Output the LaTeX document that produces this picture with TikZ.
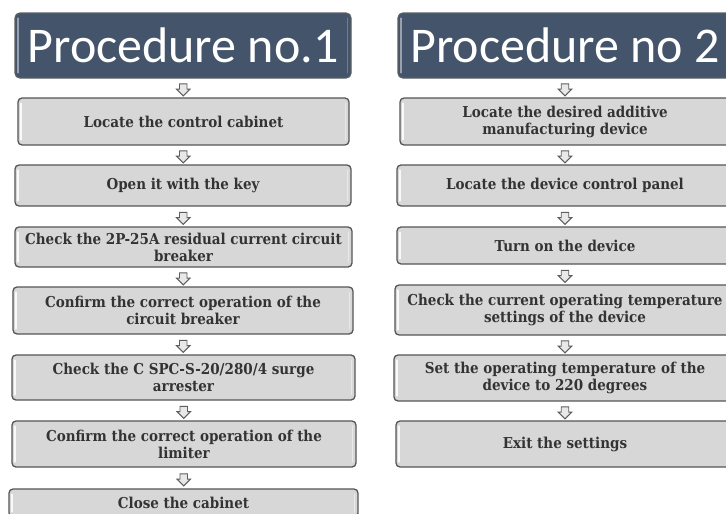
\documentclass[tikz,border=0pt]{standalone}
\usepackage{fontspec}
\setmainfont{DejaVu Serif Condensed}
\newfontfamily\titlefont{Carlito}
\usetikzlibrary{calc,shapes.arrows}

\definecolor{slate}{HTML}{44546A}
\definecolor{slateedge}{HTML}{5A5E63}
\definecolor{boxgray}{HTML}{D7D7D7}
\definecolor{edgegray}{HTML}{555555}
\definecolor{inkgray}{HTML}{333333}
\definecolor{arrowedge}{HTML}{5E5E5E}
\definecolor{arrowfill}{HTML}{E8E8E8}

\tikzset{
  stepbox/.style={rectangle, rounded corners=4pt, draw=edgegray, line width=1.3pt,
    fill=boxgray, text=inkgray, align=center, inner sep=0pt,
    font=\bfseries\fontsize{15}{17}\selectfont},
  titlebox/.style={rectangle, rounded corners=5pt, draw=slateedge, line width=1.3pt,
    fill=slate, text=white, inner sep=0pt,
    font=\titlefont\fontsize{50}{50}\selectfont},
  stepbox gloss/.style={white, line width=2pt, line cap=round, opacity=0.85},
  stepbox softgloss/.style={white, line width=1.5pt, line cap=round, opacity=0.45},
  titlebox gloss/.style={white, line width=2pt, line cap=round, opacity=0.45},
  titlebox softgloss/.style={white, line width=1.5pt, line cap=round, opacity=0.25},
  flowarrow/.style={single arrow, shape border rotate=270, draw=arrowedge,
    fill=arrowfill, line width=0.9pt, inner sep=3.3pt, minimum height=12pt,
    minimum width=13pt, single arrow head extend=3pt}
}

% box with left/right edges and top/bottom edges given in pt (y grows downwards)
\newcommand\flowstep[7]{%
  \node[#1, minimum width={#4pt-#3pt}, minimum height={#6pt-#5pt}] (#2)
    at ({(#3+#4)/2*1pt}, {-(#5+#6)/2*1pt}) {#7};
  \draw[#1 gloss] ([xshift=4pt,yshift=-6pt]#2.north west) -- ([xshift=4pt,yshift=6pt]#2.south west);
  \draw[#1 softgloss] ([xshift=-4pt,yshift=-6pt]#2.north east) -- ([xshift=-4pt,yshift=6pt]#2.south east);
}
% hollow block arrow half-way between two boxes
\newcommand\flowlink[2]{%
  \node[flowarrow] at ($(#1.south)!0.5!(#2.north)$) {};
}

\begin{document}
\begin{tikzpicture}
\useasboundingbox (0,0) rectangle (726pt,-514pt);

% ---- first procedure
\flowstep{titlebox}{t1}{15}{351}{13}{78}{Procedure no.1}
\flowstep{stepbox}{a1}{18}{349}{98}{145}{Locate the control cabinet}
\flowstep{stepbox}{a2}{15}{351}{165}{206}{Open it with the key}
\flowstep{stepbox}{a3}{15}{352}{227}{267}{Check the 2P-25A residual current circuit\\breaker}
\flowstep{stepbox}{a4}{13}{353}{287}{334}{Confirm the correct operation of the\\circuit breaker}
\flowstep{stepbox}{a5}{12}{355}{355}{400}{Check the C SPC-S-20/280/4 surge\\arrester}
\flowstep{stepbox}{a6}{12}{356}{421}{467}{Confirm the correct operation of the\\limiter}
\flowstep{stepbox}{a7}{9}{358}{489}{517}{Close the cabinet}

\flowlink{t1}{a1}
\flowlink{a1}{a2}
\flowlink{a2}{a3}
\flowlink{a3}{a4}
\flowlink{a4}{a5}
\flowlink{a5}{a6}
\flowlink{a6}{a7}

% ---- second procedure
\flowstep{titlebox}{t2}{398}{732}{13}{78}{Procedure no 2}
\flowstep{stepbox}{b1}{400}{730}{98}{145}{Locate the desired additive\\manufacturing device}
\flowstep{stepbox}{b2}{397}{733}{165}{206}{Locate the device control panel}
\flowstep{stepbox}{b3}{397}{733}{227}{264}{Turn on the device}
\flowstep{stepbox}{b4}{395}{735}{285}{335}{Check the current operating temperature\\settings of the device}
\flowstep{stepbox}{b5}{394}{736}{355}{401}{Set the operating temperature of the\\device to 220 degrees}
\flowstep{stepbox}{b6}{396}{734}{421}{467}{Exit the settings}

\flowlink{t2}{b1}
\flowlink{b1}{b2}
\flowlink{b2}{b3}
\flowlink{b3}{b4}
\flowlink{b4}{b5}
\flowlink{b5}{b6}
\end{tikzpicture}
\end{document}
